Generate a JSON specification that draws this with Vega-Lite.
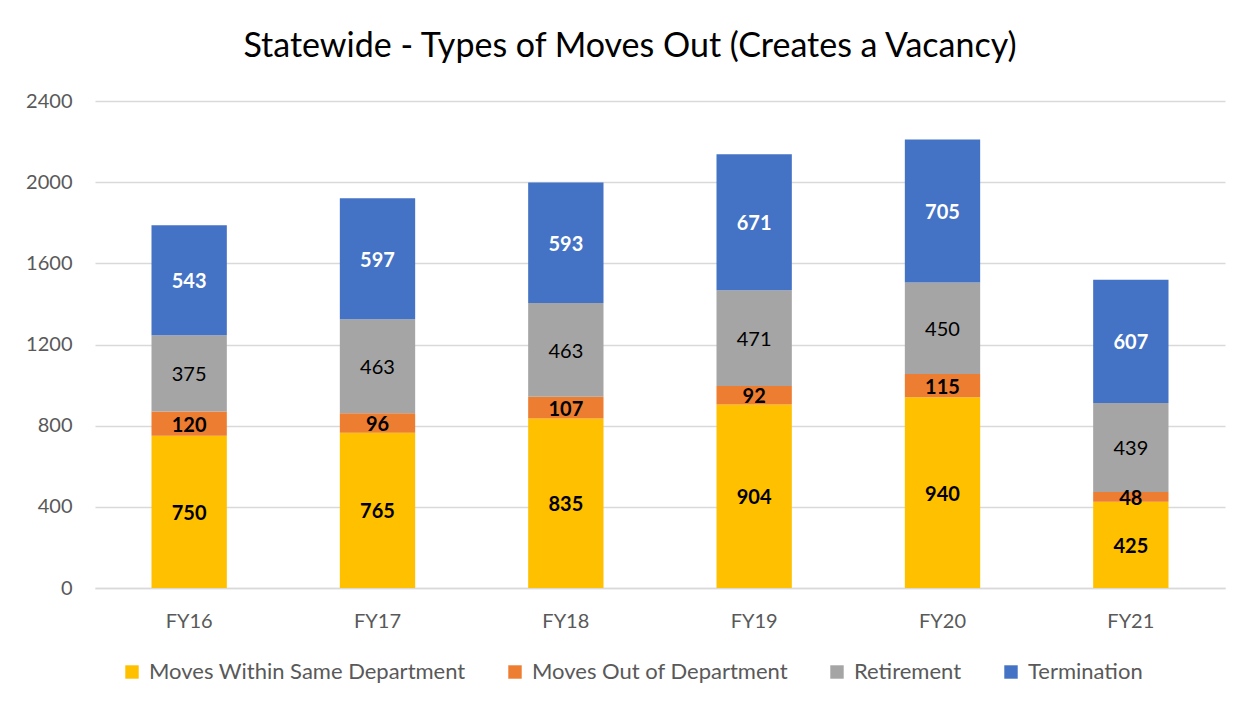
{
  "$schema": "https://vega.github.io/schema/vega-lite/v6.json",
  "autosize": {"type": "none"},
  "width": 1130,
  "height": 487,
  "padding": {"left": 95, "top": 101, "right": 28, "bottom": 121},
  "background": "white",
  "config": {"font": "Lato", "view": {"stroke": null}},
  "title": {"text": "Statewide - Types of Moves Out (Creates a Vacancy)", "fontSize": 34, "fontWeight": "normal", "color": "#000000", "anchor": "middle", "baseline": "alphabetic", "offset": 0, "dx": -30},
  "data": {"values": [
    {"year": "FY16", "type": "Moves Within Same Department", "order": 1, "value": 750},
    {"year": "FY16", "type": "Moves Out of Department", "order": 2, "value": 120},
    {"year": "FY16", "type": "Retirement", "order": 3, "value": 375},
    {"year": "FY16", "type": "Termination", "order": 4, "value": 543},
    {"year": "FY17", "type": "Moves Within Same Department", "order": 1, "value": 765},
    {"year": "FY17", "type": "Moves Out of Department", "order": 2, "value": 96},
    {"year": "FY17", "type": "Retirement", "order": 3, "value": 463},
    {"year": "FY17", "type": "Termination", "order": 4, "value": 597},
    {"year": "FY18", "type": "Moves Within Same Department", "order": 1, "value": 835},
    {"year": "FY18", "type": "Moves Out of Department", "order": 2, "value": 107},
    {"year": "FY18", "type": "Retirement", "order": 3, "value": 463},
    {"year": "FY18", "type": "Termination", "order": 4, "value": 593},
    {"year": "FY19", "type": "Moves Within Same Department", "order": 1, "value": 904},
    {"year": "FY19", "type": "Moves Out of Department", "order": 2, "value": 92},
    {"year": "FY19", "type": "Retirement", "order": 3, "value": 471},
    {"year": "FY19", "type": "Termination", "order": 4, "value": 671},
    {"year": "FY20", "type": "Moves Within Same Department", "order": 1, "value": 940},
    {"year": "FY20", "type": "Moves Out of Department", "order": 2, "value": 115},
    {"year": "FY20", "type": "Retirement", "order": 3, "value": 450},
    {"year": "FY20", "type": "Termination", "order": 4, "value": 705},
    {"year": "FY21", "type": "Moves Within Same Department", "order": 1, "value": 425},
    {"year": "FY21", "type": "Moves Out of Department", "order": 2, "value": 48},
    {"year": "FY21", "type": "Retirement", "order": 3, "value": 439},
    {"year": "FY21", "type": "Termination", "order": 4, "value": 607}
  ]},
  "transform": [
    {"stack": "value", "groupby": ["year"], "sort": [{"field": "order"}], "as": ["y0", "y1"]},
    {"calculate": "(datum.y0 + datum.y1) / 2", "as": "mid"}
  ],
  "encoding": {
    "x": {"field": "year", "type": "nominal", "sort": null,
      "scale": {"paddingInner": 0.6, "paddingOuter": 0.3},
      "axis": {"title": null, "labelAngle": 0, "labelFontSize": 20, "labelColor": "#595959", "labelPadding": 23, "ticks": false, "domain": true, "domainColor": "#d9d9d9", "domainWidth": 1.5}}
  },
  "layer": [
    {
      "mark": {"type": "bar"},
      "encoding": {
        "y": {"field": "y0", "type": "quantitative",
          "scale": {"domain": [0, 2400]},
          "axis": {"title": null, "values": [0, 400, 800, 1200, 1600, 2000, 2400], "format": "d", "labelFontSize": 20, "labelColor": "#595959", "labelPadding": 23, "ticks": false, "domain": false, "gridColor": "#d9d9d9", "gridWidth": 1.5}},
        "y2": {"field": "y1"},
        "color": {"field": "type", "type": "nominal",
          "scale": {"domain": ["Moves Within Same Department", "Moves Out of Department", "Retirement", "Termination"], "range": ["#FFC000", "#ED7D31", "#A5A5A5", "#4472C4"]},
          "legend": {"title": null, "orient": "none", "direction": "horizontal", "legendX": 26, "legendY": 560, "symbolType": "square", "symbolSize": 180, "symbolStrokeWidth": 0, "symbolOpacity": 1, "labelFontSize": 22, "labelColor": "#595959", "labelLimit": 0, "columnPadding": 38, "labelOffset": 6}}
      }
    },
    {
      "transform": [{"filter": "datum.type !== 'Retirement'"}],
      "mark": {"type": "text", "fontSize": 20, "fontWeight": "bold", "baseline": "middle", "dy": 2},
      "encoding": {
        "y": {"field": "mid", "type": "quantitative"},
        "text": {"field": "value", "type": "quantitative"},
        "color": {"condition": {"test": "datum.type === 'Termination'", "value": "#FFFFFF"}, "value": "#000000"}
      }
    },
    {
      "transform": [{"filter": "datum.type === 'Retirement'"}],
      "mark": {"type": "text", "fontSize": 20, "fontWeight": "normal", "baseline": "middle", "color": "#000000", "dy": 2},
      "encoding": {
        "y": {"field": "mid", "type": "quantitative"},
        "text": {"field": "value", "type": "quantitative"}
      }
    }
  ]
}
